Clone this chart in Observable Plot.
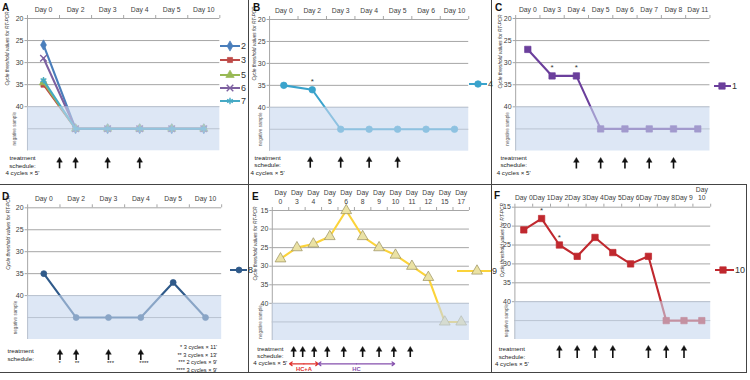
<!DOCTYPE html>
<html>
<head>
<meta charset="utf-8">
<script src="https://cdn.jsdelivr.net/npm/d3@7"></script>
<script src="https://cdn.jsdelivr.net/npm/@observablehq/plot@0.6"></script>
<style>
body{margin:0;background:#fff;font-family:"Liberation Sans",Arial,sans-serif;}
#fig{position:relative;width:750px;height:380px;overflow:hidden;background:#fff;}
.panel{position:absolute;}
.sep{position:absolute;background:#444;}
.letter{position:absolute;font-weight:bold;font-size:10px;line-height:10px;color:#111;}
.legend{position:absolute;display:flex;align-items:center;height:12px;font-size:9px;line-height:12px;color:#333;white-space:nowrap;}
</style>
</head>
<body>
<div id="fig"></div>
<script>
// Ct value used to draw a negative sample
const NEG = 45;

// ---- Panel A (patients 2, 3, 5, 6, 7)
const daysA = ["Day 0", "Day 2", "Day 3", "Day 4", "Day 5", "Day 10"];
const ctA2 = [26, NEG, NEG, NEG, NEG, NEG];
const ctA3 = [35, NEG, NEG, NEG, NEG, NEG];
const ctA5 = [34.5, NEG, NEG, NEG, NEG, NEG];
const ctA6 = [29, NEG, NEG, NEG, NEG, NEG];
const ctA7 = [34, NEG, NEG, NEG, NEG, NEG];
const treatA = [0.5, 1, 2, 3];

// ---- Panel B (patient 4)
const daysB = ["Day 0", "Day 2", "Day 3", "Day 4", "Day 5", "Day 6", "Day 10"];
const ctB4 = [35, 36, NEG, NEG, NEG, NEG, NEG];
const starB = [1];
const treatB = [0.93, 2, 3, 4];

// ---- Panel C (patient 1)
const daysC = ["Day 0", "Day 3", "Day 4", "Day 5", "Day 6", "Day 7", "Day 8", "Day 11"];
const ctC1 = [27, 33, 33, NEG, NEG, NEG, NEG, NEG];
const starC = [1, 2];
const treatC = [2, 3, 4, 5, 6];

// ---- Panel D (patient 8)
const daysD = ["Day 0", "Day 2", "Day 3", "Day 4", "Day 5", "Day 10"];
const ctD8 = [35, NEG, NEG, NEG, 37, NEG];
const treatD = [0.5, 1, 2, 3];
const treatMarksD = ["*", "**", "***", "****"];
const notesD = ["* 3 cycles × 11'", "** 3 cycles × 13'", "*** 2 cycles × 9'", "**** 3 cycles × 9'"];

// ---- Panel E (patient 9)
const daysE = ["Day\n0", "Day\n3", "Day\n4", "Day\n5", "Day\n6", "Day\n8", "Day\n9", "Day\n10", "Day\n11", "Day\n12", "Day\n15", "Day\n17"];
const ctE9 = [28, 25, 24, 22, 15, 22, 25, 27, 30, 33, NEG, NEG];
const treatE = [0.8, 1.35, 2.05, 2.85, 3.85, 5, 6, 6.9, 7.9];
const regimenNames = ["HC+A", "HC"];
const regimenFrom = [0.55, 2.3];
const regimenTo = [2.3, 6.95];

// ---- Panel F (patient 10)
const daysF = ["Day 0", "Day 1", "Day 2", "Day 3", "Day 4", "Day 5", "Day 6", "Day 7", "Day 8", "Day 9", "Day\n10"];
const ctF10 = [21, 18, 25, 28, 23, 27, 30, 28, NEG, NEG, NEG];
const starF = [1, 2];
const treatF = [2, 3, 4, 5, 7, 8, 9];

const TREAT = "treatment\nschedule:\n4 cycles × 5'";

// ---------------- styling / layout ----------------
const FONT = "'Liberation Sans', Arial, sans-serif";
const GRID = "#a6a6a6";
const fig = document.getElementById("fig");

const panels = [
  {letter: "A", box: [0, 0, 249, 184], p0: 43, pN: 203.3, T: 18, B: 150.3, yTop: 20, days: daysA,
   series: [
     {name: "2", values: ctA2, color: "#4a7ebb", symbol: "diamond", r: 3.1},
     {name: "3", values: ctA3, color: "#be4b48", symbol: "square", r: 2.9},
     {name: "5", values: ctA5, color: "#98b954", symbol: "triangle", r: 3.1},
     {name: "6", values: ctA6, color: "#7d60a0", symbol: "times", r: 3.1, hollow: true},
     {name: "7", values: ctA7, color: "#46aac5", symbol: "asterisk", r: 3.1, hollow: true}
   ],
   legendX: 220, legendLen: 20, legendMark: 10, legendY: [45.5, 60, 74.5, 88, 101],
   treat: treatA, arrowTop: 6.5, arrowBottom: 18, treatText: TREAT, treatDx: -5, treatDy: 4,
   titleDx: -20, titleDy: 30, negDx: -13, letterXY: [2, 3]},
  {letter: "B", box: [249, 0, 242, 184], p0: 283.3, pN: 454, T: 19, B: 150.7, yTop: 20, days: daysB,
   series: [{name: "4", values: ctB4, color: "#3aa3cc", symbol: "circle", r: 3.3}], stars: starB,
   legendX: 469, legendLen: 18, legendMark: 9, legendY: [84],
   treat: treatB, arrowTop: 5.5, arrowBottom: 17, treatText: TREAT, treatDx: -2, treatDy: 3,
   titleDx: -15, titleDy: 24, negDx: -9, letterXY: [253, 3]},
  {letter: "C", box: [491, 0, 259, 184], p0: 527.3, pN: 697.3, T: 18, B: 150.5, yTop: 20, days: daysC,
   series: [{name: "1", values: ctC1, color: "#6b3f9c", symbol: "square", r: 3.6}], stars: starC,
   legendX: 714, legendLen: 17, legendMark: 8, legendY: [86],
   treat: treatC, arrowTop: 6.5, arrowBottom: 18, treatText: TREAT, treatDx: -2, treatDy: 3.5,
   titleDx: -15, titleDy: 33, negDx: -8, letterXY: [495, 3]},
  {letter: "D", box: [0, 184, 249, 188], p0: 43.3, pN: 205, T: 207.3, B: 339, yTop: 20, days: daysD,
   series: [{name: "8", values: ctD8, color: "#2f5a8a", symbol: "circle", r: 3}],
   legendX: 230, legendLen: 17, legendMark: 9, legendY: [269.5],
   treat: treatD, arrowTop: 10, arrowBottom: 21, treatText: "treatment\nschedule:", treatDx: -7, treatDy: 8.5,
   titleDx: -19, titleDy: 25, negDx: -12, letterXY: [2, 192]},
  {letter: "E", box: [249, 184, 242, 188], p0: 280, pN: 460.7, T: 210, B: 340, yTop: 15, days: daysE,
   series: [{name: "9", values: ctE9, color: "#fbd33a", symbol: "triangle", r: 4, fill: "#ebe2a4", markStroke: "#9a9060"}],
   legendX: 457, legendLen: 34, legendMark: 20, legendY: [271],
   treat: treatE, arrowTop: 6, arrowBottom: 17, treatText: TREAT, treatDx: -2, treatDy: 5.5, lineH: 1.12,
   titleDx: -17, titleDy: 33, negDx: -12, letterXY: [252, 192]},
  {letter: "F", box: [491, 184, 259, 188], p0: 523.3, pN: 701.3, T: 206.7, B: 339, yTop: 15, days: daysF,
   series: [{name: "10", values: ctF10, color: "#c0282e", symbol: "square", r: 3.6}], stars: starF,
   legendX: 715, legendLen: 19, legendMark: 8, legendY: [269.5],
   treat: treatF, arrowTop: 6, arrowBottom: 19, treatText: TREAT, treatDx: -3, treatDy: 6.5,
   titleDx: -12, titleDy: 33, negDx: -8, letterXY: [494, 191]}
];

const symbolTypes = {diamond: d3.symbolDiamond, square: d3.symbolSquare, triangle: d3.symbolTriangle,
  circle: d3.symbolCircle, times: d3.symbolTimes, asterisk: d3.symbolAsterisk};

function place(el, x, y) {
  el.style.left = x + "px";
  el.style.top = y + "px";
  fig.appendChild(el);
}

function drawPanel(p) {
  const [bx, by, bw, bh] = p.box;
  const n = p.days.length;
  const step = (p.pN - p.p0) / (n - 1);
  const L = p.p0 - step / 2, R = p.pN + step / 2;
  const ppu = (p.B - p.T) / (50 - p.yTop);
  const below = px => 50 + px / ppu;
  const xDom = [-0.5, n - 0.5];
  const marks = [];

  // grid, axis lines and ticks
  marks.push(Plot.ruleY(d3.range(p.yTop, 46, 5), {stroke: GRID, strokeWidth: 1}));
  marks.push(Plot.ruleX([xDom[0]], {y1: p.yTop, y2: 50, stroke: GRID}));
  marks.push(Plot.ruleX(d3.range(n + 1).map(i => i - 0.5), {y1: p.yTop, y2: p.yTop - 3 / ppu, stroke: GRID}));
  marks.push(Plot.axisY({ticks: d3.range(p.yTop, 41, 5), tickSize: 2.5, tickPadding: 1.5, stroke: GRID,
    fill: "#404040", fontSize: 7, label: null}));
  marks.push(Plot.axisX({anchor: "top", ticks: d3.range(n), tickFormat: i => p.days[i], tickSize: 0,
    tickPadding: 7, fill: "#404040", fontSize: 6.8, lineHeight: 1.25, label: null}));

  // data
  for (const s of p.series) {
    const rows = s.values.map((v, i) => ({i, v}));
    marks.push(Plot.line(rows, {x: "i", y: "v", stroke: s.color, strokeWidth: 2.1}));
    marks.push(Plot.dot(rows, {x: "i", y: "v", symbol: s.symbol, r: s.r,
      fill: s.hollow ? "none" : (s.fill || s.color), stroke: s.markStroke || s.color,
      strokeWidth: s.hollow ? 1.4 : 0.7}));
  }
  if (p.stars) {
    const vals = p.series[0].values;
    marks.push(Plot.text(p.stars, {x: d => d, y: d => vals[d], text: () => "*", dy: -8, fontSize: 8, fill: "#333"}));
  }

  // negative-sample band (drawn over the data, semi-transparent)
  marks.push(Plot.rect([0], {x1: xDom[0], x2: xDom[1], y1: 40, y2: 50, fill: "#c6d7ee", fillOpacity: 0.6}));

  // texts
  marks.push(Plot.text(["Cycle threshold values for RT-PCR"], {frameAnchor: "top-left", rotate: -90,
    textAnchor: "middle", lineAnchor: "middle", dx: p.titleDx, dy: p.titleDy, fontSize: 4.8,
    fontStyle: "italic", fill: "#333"}));
  marks.push(Plot.text(["negative sample"], {frameAnchor: "bottom-left", rotate: -90,
    textAnchor: "middle", lineAnchor: "middle", dx: p.negDx, dy: -5 * ppu, fontSize: 4.6, fill: "#555"}));
  marks.push(Plot.text([p.treatText], {frameAnchor: "bottom-left", textAnchor: "middle", lineAnchor: "top",
    dx: p.treatDx, dy: p.treatDy, fontSize: 6.2, lineHeight: p.lineH || 1.22, fill: "#222"}));

  // treatment arrows
  marks.push(Plot.ruleX(p.treat, {y1: below(p.arrowTop + 3), y2: below(p.arrowBottom), stroke: "#111", strokeWidth: 1.6}));
  marks.push(Plot.dot(p.treat, {x: d => d, y: below(p.arrowTop + 3.2), symbol: "triangle", r: 2.1,
    fill: "#111", stroke: "#111", strokeWidth: 0.4}));

  if (p.letter === "D") {
    marks.push(Plot.text(p.treat, {x: d => d, y: below(24), text: (d, i) => treatMarksD[i],
      textAnchor: "start", dx: -1.5, fontSize: 6, fill: "#222"}));
    marks.push(Plot.text([notesD.join("\n")], {frameAnchor: "bottom-right", textAnchor: "end", lineAnchor: "top",
      dx: -4.5, dy: 4, fontSize: 5.6, lineHeight: 1.36, fill: "#222"}));
  }
  if (p.letter === "E") {
    const colors = ["#e0302c", "#8550ad"];
    const yArr = below(23.3);
    regimenNames.forEach((name, k) => {
      const mid = (regimenFrom[k] + regimenTo[k]) / 2;
      marks.push(Plot.arrow([0, 1], {x1: () => mid, x2: d => d === 0 ? regimenFrom[k] : regimenTo[k],
        y1: yArr, y2: yArr, stroke: colors[k], strokeWidth: 1.2, headLength: 4, headAngle: 70}));
      marks.push(Plot.text([name], {x: () => mid, y: below(29), fontSize: 5.8, fill: colors[k], fontWeight: "bold"}));
    });
  }

  const svg = Plot.plot({
    width: bw, height: bh,
    marginLeft: L - bx, marginRight: bx + bw - R, marginTop: p.T - by, marginBottom: by + bh - p.B,
    x: {domain: xDom}, y: {domain: [p.yTop, 50], reverse: true},
    style: {fontFamily: FONT, background: "transparent", overflow: "visible", color: "#404040"},
    marks
  });
  const div = document.createElement("div");
  div.className = "panel";
  div.style.width = bw + "px";
  div.style.height = bh + "px";
  div.appendChild(svg);
  place(div, bx, by);
}

function drawLegend(p) {
  p.series.forEach((s, k) => {
    const div = document.createElement("div");
    div.className = "legend";
    const svg = d3.create("svg").attr("width", p.legendLen).attr("height", 12).style("overflow", "visible");
    svg.append("line").attr("x1", 0).attr("x2", p.legendLen).attr("y1", 6).attr("y2", 6)
      .attr("stroke", s.color).attr("stroke-width", 2);
    svg.append("path").attr("d", d3.symbol(symbolTypes[s.symbol], Math.PI * s.r * s.r)())
      .attr("transform", `translate(${p.legendMark},6)`)
      .attr("fill", s.hollow ? "none" : (s.fill || s.color))
      .attr("stroke", s.markStroke || s.color).attr("stroke-width", s.hollow ? 1.4 : 0.7);
    div.appendChild(svg.node());
    const span = document.createElement("span");
    span.textContent = s.name;
    span.style.marginLeft = "1px";
    div.appendChild(span);
    place(div, p.legendX, p.legendY[k] - 6);
  });
}

panels.forEach(drawPanel);

// separators
[[248, 0, 1, 372], [491, 0, 1, 372], [0, 184, 747, 1], [0, 372, 747, 1], [746, 184, 1, 189]].forEach(([x, y, w, h]) => {
  const d = document.createElement("div");
  d.className = "sep";
  d.style.width = w + "px";
  d.style.height = h + "px";
  place(d, x, y);
});

panels.forEach(p => {
  drawLegend(p);
  const l = document.createElement("div");
  l.className = "letter";
  l.textContent = p.letter;
  place(l, p.letterXY[0], p.letterXY[1]);
});
</script>
</body>
</html>
